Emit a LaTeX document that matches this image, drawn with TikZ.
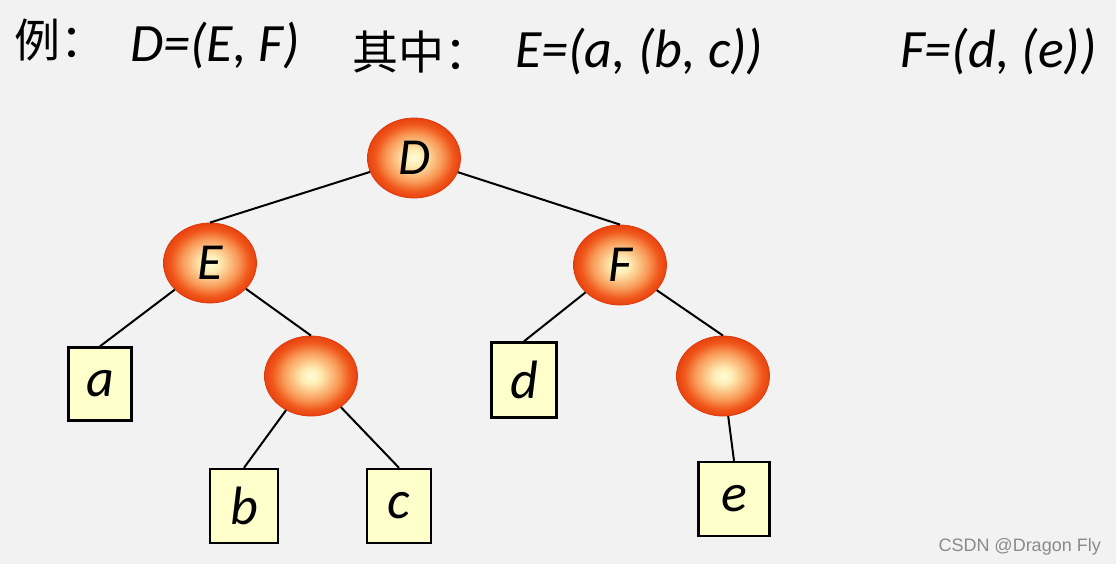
\documentclass[tikz,border=0pt]{standalone}
\usepackage{fontspec}
\setmainfont{Carlito}
\newfontfamily\cjk{Noto Sans CJK SC}
\newfontfamily\wmfont{Liberation Sans}
\usetikzlibrary{shapes.geometric}
\definecolor{bg}{HTML}{F2F2F2}
\definecolor{ballA}{HTML}{FFFBD8}
\definecolor{ballA2}{HTML}{FEEDB4}
\definecolor{ballB}{HTML}{F99A58}
\definecolor{ballC}{HTML}{F0581C}
\definecolor{ballD}{HTML}{E8420F}
\definecolor{ballEdge}{HTML}{E03A0C}
\definecolor{boxY}{HTML}{FFFFCC}
\definecolor{wmgray}{HTML}{8A8A8A}
\pgfdeclareradialshading{myball}{\pgfpoint{0bp}{0bp}}{color(0bp)=(ballA); color(5bp)=(ballA2); color(15bp)=(ballB); color(21bp)=(ballC); color(25bp)=(ballD); color(50bp)=(ballD)}
\tikzset{
  hdr/.style={anchor=base west, inner sep=0pt, font=\itshape\fontsize{54}{54}\selectfont},
  hdrcn/.style={anchor=base west, inner sep=0pt, font=\cjk\fontsize{46}{46}\selectfont},
  ball/.style={ellipse, minimum width=93pt, minimum height=80pt, inner sep=0pt,
    draw=ballEdge, line width=0.8pt, shading=myball,
    font=\itshape\fontsize{52}{52}\selectfont},
  leaf/.style={rectangle, draw=black, line width=2.4pt, fill=boxY,
    minimum width=65pt, minimum height=74pt, inner sep=0pt,
    font=\itshape\fontsize{54}{54}\selectfont},
  edge/.style={draw=black, line width=2pt}
}
\begin{document}
\begin{tikzpicture}[x=1pt,y=-1pt]
\fill[bg] (0,0) rectangle (1116,564);
\useasboundingbox (0,0) rectangle (1116,564);

% header
\node[hdrcn] (li) at (14,58) {例：};
\node[hdr] (dfe) at (130,62) {D=(E, F)};
\node[hdrcn] (qz) at (352,70) {其中：};
\node[hdr] (eab) at (515,68) {E=(a, (b, c))};
\node[hdr] (fde) at (900,68) {F=(d, (e))};

% tree
\node[ball] (D) at (414,158) {D};
\node[ball] (E) at (210,263) {E};
\node[ball] (F) at (620,265) {F};
\node[ball] (BC) at (311,376) {};
\node[ball] (X) at (723,376) {};

\node[leaf, minimum width=63pt, minimum height=73pt] (a) at (100,384) {a};
\node[leaf, minimum width=68pt] (b) at (244,506) {b};
\node[leaf, minimum width=64pt] (c) at (399,506) {c};
\node[leaf, minimum width=65pt, minimum height=75pt] (d) at (524,380) {d};
\node[leaf, minimum width=71pt] (e) at (734,499) {e};

\draw[edge] (D) -- (E.north);
\draw[edge] (D) -- (F.north);
\draw[edge] (E) -- (a.north);
\draw[edge] (E) -- (BC.north);
\draw[edge] (BC) -- (b.north);
\draw[edge] (BC) -- (c.north);
\draw[edge] (F) -- (d.north);
\draw[edge] (F) -- (X.north);
\draw[edge] (X) -- (e.north);

\node[anchor=base east, inner sep=0pt, text=wmgray, font=\wmfont\fontsize{18}{18}\selectfont] (wm) at (1101,551) {CSDN @Dragon Fly};
\end{tikzpicture}
\end{document}
